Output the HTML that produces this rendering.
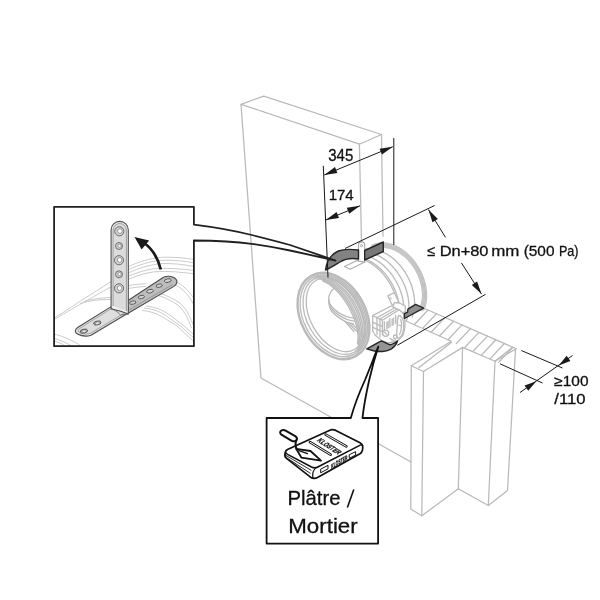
<!DOCTYPE html>
<html>
<head>
<meta charset="utf-8">
<title>Installation diagram</title>
<style>
html,body{margin:0;padding:0;background:#fff;}
body{width:600px;height:600px;overflow:hidden;font-family:"Liberation Sans",sans-serif;}
svg{display:block;filter:grayscale(1);}
text{font-family:"Liberation Sans",sans-serif;fill:#111;stroke:#111;stroke-width:0.3;}
.w{fill:none;stroke:#b8b9bc;stroke-width:1.25;stroke-linejoin:round;stroke-linecap:round;}
.d{fill:none;stroke:#bababa;stroke-width:1.3;stroke-linejoin:round;stroke-linecap:round;}
.df{fill:#fff;stroke:#bababa;stroke-width:1.3;stroke-linejoin:round;stroke-linecap:round;}
.k{fill:none;stroke:#1a1a1a;stroke-width:1;stroke-linecap:butt;}
.kb{fill:none;stroke:#1a1a1a;stroke-width:1.7;stroke-linejoin:miter;stroke-linecap:butt;}
.m{fill:#808184;stroke:#262626;stroke-width:1.4;stroke-linejoin:round;}
.ah{fill:#1a1a1a;stroke:none;}
</style>
</head>
<body>
<svg width="600" height="600" viewBox="0 0 600 600">
<rect width="600" height="600" fill="#fff"/>
<!-- wall slab -->
<g id="wall">
<path class="w" d="M241 104.3 L263.7 96.1 L381.5 134.5 L359.4 144.2 Z"/>
<path class="w" d="M241 104.3 L261 378 L411 462"/>
<path class="w" d="M359.4 144.2 L361.5 243"/>
<path class="w" d="M381.5 134.5 L383 236"/>
</g>
<!-- L-shaped wall section -->
<g id="lwall">
<path class="w" d="M424 308.3 L516.2 348.7"/>
<path class="w" d="M406 321 L451.3 341.3 L411.3 365.7"/>
<path class="w" d="M462.6 347.4 L495 361.3 L516.2 348.7"/>
<path class="w" d="M462.6 347.4 L423.5 371.5 L411.3 365.7"/>
<path class="w" d="M411.3 365.7 L410.8 509 L421.8 515.8 L458.3 488.8 L488.3 505.5 L507.5 490.5 L515.5 349.5"/>
<path class="w" d="M423.5 371.5 L421.8 515.8"/>
<path class="w" d="M462.6 347.4 L458.3 488.8"/>
<path class="w" d="M495 361.3 L488.3 505.5"/>
<path class="w" d="M414.2 324.7 L428.0 310.0"/>
<path class="w" d="M422.6 328.4 L436.5 313.8"/>
<path class="w" d="M431.1 332.2 L445.0 317.5"/>
<path class="w" d="M439.5 336.0 L453.5 321.2"/>
<path class="w" d="M448.0 339.7 L462.0 324.9"/>
<path class="w" d="M456.4 343.5 L470.5 328.6"/>
<path class="w" d="M464.9 347.3 L479.0 332.4"/>
<path class="w" d="M473.3 351.0 L487.5 336.1"/>
<path class="w" d="M481.8 354.8 L495.9 339.8"/>
<path class="w" d="M490.2 358.6 L504.4 343.5"/>
<path class="w" d="M498.7 362.3 L512.9 347.3"/>
<path class="w" d="M495 361.3 L512.5 347.2"/>
<path class="w" d="M418.7 367.8 L451.3 342.5"/>
</g>
<!-- duct / damper -->
<g id="duct">
<path class="d" style="stroke:#dadada;stroke-width:5.2" d="M372.93 247.32 L373.70 246.96 L374.48 246.64 L375.27 246.34 L376.08 246.08 L376.91 245.85 L377.74 245.65 L378.59 245.48 L379.45 245.34 L380.32 245.24 L381.20 245.17 L382.09 245.13 L382.98 245.12 L383.89 245.15 L384.80 245.21 L385.72 245.30 L386.64 245.42 L387.57 245.58 L388.50 245.77 L389.43 245.99 L390.37 246.24 L391.31 246.52 L392.25 246.83 L393.18 247.18 L394.12 247.56 L395.06 247.96 L395.99 248.40 L396.92 248.86 L397.85 249.36 L398.77 249.88 L399.68 250.44 L400.59 251.02 L401.50 251.63 L402.39 252.26 L403.28 252.92 L404.15 253.61 L405.02 254.33 L405.87 255.06 L406.72 255.83 L407.55 256.61 L408.37 257.42 L409.18 258.25 L409.97 259.10 L410.74 259.98 L411.50 260.87 L412.25 261.78 L412.98 262.71 L413.69 263.66 L414.38 264.63 L415.05 265.61 L415.71 266.61 L416.34 267.62 L416.96 268.64 L417.55 269.68 L418.12 270.73 L418.67 271.79 L419.20 272.87 L419.71 273.95 L420.19 275.04 L420.65 276.13 L421.09 277.24 L421.50 278.34 L421.88 279.46 L422.25 280.58 L422.58 281.70 L422.89 282.82 L423.18 283.94 L423.44 285.06 L423.67 286.19 L423.88 287.31 L424.06 288.42 L424.22 289.54 L424.34 290.65 L424.44 291.75 L424.52 292.85 L424.56 293.94 L424.58 295.02 L424.57 296.09 L424.54 297.16 L424.48 298.21 L424.39 299.25 L424.27 300.27 L424.13 301.29 L423.96 302.29 L423.76 303.27 L423.54 304.24 L423.29 305.19 L423.02 306.12 L422.71 307.04 L422.39 307.93 L422.04 308.81"/>
<path class="d" style="stroke-width:0.9" d="M371.78 245.10 L372.59 244.72 L373.43 244.37 L374.27 244.06 L375.14 243.78 L376.01 243.53 L376.90 243.32 L377.80 243.14 L378.72 242.99 L379.64 242.88 L380.58 242.80 L381.52 242.76 L382.48 242.75 L383.44 242.78 L384.41 242.84 L385.39 242.93 L386.37 243.06 L387.35 243.23 L388.35 243.42 L389.34 243.65 L390.33 243.92 L391.33 244.22 L392.33 244.55 L393.33 244.91 L394.32 245.31 L395.32 245.74 L396.31 246.20 L397.30 246.69 L398.28 247.22 L399.26 247.77 L400.24 248.36 L401.20 248.97 L402.16 249.62 L403.11 250.29 L404.05 250.99 L404.98 251.72 L405.90 252.48 L406.81 253.26 L407.71 254.06 L408.59 254.90 L409.46 255.75 L410.32 256.63 L411.16 257.54 L411.98 258.46 L412.79 259.41 L413.58 260.38 L414.35 261.36 L415.11 262.37 L415.84 263.39 L416.56 264.43 L417.25 265.49 L417.92 266.56 L418.58 267.65 L419.21 268.75 L419.81 269.87 L420.40 270.99 L420.96 272.13 L421.49 273.27 L422.00 274.43 L422.49 275.59 L422.95 276.76 L423.39 277.94 L423.80 279.12 L424.18 280.30 L424.54 281.49 L424.87 282.68 L425.17 283.88 L425.44 285.07 L425.69 286.26 L425.91 287.45 L426.10 288.63 L426.26 289.82 L426.39 290.99 L426.50 292.16 L426.57 293.33 L426.62 294.49 L426.64 295.63 L426.63 296.77 L426.59 297.90 L426.52 299.02 L426.42 300.12 L426.30 301.21 L426.14 302.29 L425.96 303.35 L425.75 304.39 L425.51 305.42 L425.24 306.43 L424.95 307.42 L424.63 308.39 L424.28 309.34 L423.90 310.27"/>
<path class="d" style="stroke-width:0.9" d="M372.38 246.25 L373.17 245.89 L373.97 245.55 L374.80 245.24 L375.63 244.97 L376.48 244.73 L377.34 244.53 L378.22 244.35 L379.10 244.21 L380.00 244.10 L380.91 244.03 L381.82 243.99 L382.75 243.98 L383.68 244.01 L384.62 244.07 L385.56 244.16 L386.52 244.29 L387.47 244.45 L388.43 244.64 L389.39 244.86 L390.36 245.12 L391.33 245.41 L392.29 245.73 L393.26 246.09 L394.23 246.47 L395.19 246.89 L396.15 247.34 L397.11 247.82 L398.07 248.33 L399.01 248.87 L399.96 249.43 L400.89 250.03 L401.82 250.66 L402.75 251.31 L403.66 251.99 L404.56 252.70 L405.45 253.43 L406.34 254.19 L407.20 254.97 L408.06 255.78 L408.91 256.61 L409.73 257.47 L410.55 258.35 L411.35 259.24 L412.13 260.16 L412.90 261.10 L413.65 262.06 L414.38 263.03 L415.09 264.03 L415.79 265.04 L416.46 266.06 L417.11 267.11 L417.74 268.16 L418.36 269.23 L418.94 270.31 L419.51 271.40 L420.06 272.50 L420.58 273.62 L421.07 274.74 L421.54 275.87 L421.99 277.00 L422.42 278.14 L422.81 279.29 L423.19 280.44 L423.53 281.59 L423.85 282.75 L424.14 283.90 L424.41 285.06 L424.65 286.22 L424.86 287.37 L425.05 288.52 L425.21 289.67 L425.34 290.81 L425.44 291.95 L425.51 293.07 L425.56 294.20 L425.58 295.31 L425.57 296.42 L425.53 297.51 L425.47 298.59 L425.37 299.66 L425.25 300.72 L425.10 301.76 L424.93 302.79 L424.72 303.80 L424.49 304.80 L424.23 305.78 L423.95 306.74 L423.64 307.68 L423.30 308.61 L422.94 309.51"/>
<path class="d" style="stroke-width:0.9" d="M372.98 247.41 L373.74 247.05 L374.52 246.73 L375.32 246.43 L376.13 246.17 L376.95 245.94 L377.78 245.74 L378.63 245.57 L379.49 245.43 L380.35 245.33 L381.23 245.26 L382.12 245.22 L383.01 245.21 L383.92 245.24 L384.83 245.30 L385.74 245.39 L386.66 245.51 L387.59 245.67 L388.52 245.85 L389.45 246.07 L390.38 246.32 L391.32 246.60 L392.26 246.92 L393.19 247.26 L394.13 247.64 L395.06 248.04 L395.99 248.48 L396.92 248.94 L397.85 249.44 L398.77 249.96 L399.68 250.51 L400.59 251.09 L401.49 251.70 L402.38 252.33 L403.26 252.99 L404.14 253.68 L405.00 254.39 L405.86 255.12 L406.70 255.88 L407.53 256.67 L408.35 257.47 L409.15 258.30 L409.94 259.15 L410.71 260.02 L411.47 260.92 L412.22 261.83 L412.94 262.75 L413.65 263.70 L414.34 264.66 L415.01 265.64 L415.67 266.64 L416.30 267.65 L416.91 268.67 L417.51 269.71 L418.08 270.75 L418.63 271.81 L419.15 272.88 L419.66 273.96 L420.14 275.05 L420.60 276.14 L421.03 277.24 L421.44 278.35 L421.83 279.46 L422.19 280.57 L422.53 281.69 L422.84 282.81 L423.12 283.93 L423.38 285.05 L423.61 286.17 L423.82 287.29 L424.00 288.41 L424.15 289.52 L424.28 290.62 L424.38 291.73 L424.45 292.82 L424.50 293.91 L424.52 294.99 L424.51 296.06 L424.47 297.12 L424.41 298.17 L424.32 299.20 L424.21 300.23 L424.06 301.24 L423.89 302.24 L423.70 303.22 L423.47 304.18 L423.23 305.13 L422.95 306.06 L422.65 306.97 L422.32 307.87 L421.97 308.74"/>
<path class="d" style="stroke-width:0.9" d="M373.58 248.56 L374.32 248.22 L375.07 247.90 L375.84 247.62 L376.62 247.36 L377.42 247.14 L378.22 246.95 L379.04 246.79 L379.87 246.65 L380.71 246.56 L381.56 246.49 L382.42 246.45 L383.28 246.44 L384.15 246.47 L385.03 246.53 L385.92 246.62 L386.81 246.74 L387.71 246.89 L388.60 247.07 L389.51 247.28 L390.41 247.52 L391.32 247.80 L392.22 248.10 L393.13 248.44 L394.03 248.80 L394.94 249.19 L395.84 249.61 L396.73 250.07 L397.63 250.54 L398.52 251.05 L399.40 251.59 L400.28 252.15 L401.15 252.74 L402.01 253.35 L402.87 253.99 L403.72 254.66 L404.55 255.34 L405.38 256.06 L406.19 256.79 L407.00 257.55 L407.79 258.34 L408.57 259.14 L409.33 259.96 L410.08 260.81 L410.82 261.67 L411.53 262.55 L412.24 263.45 L412.92 264.37 L413.59 265.30 L414.24 266.25 L414.88 267.21 L415.49 268.19 L416.08 269.18 L416.66 270.18 L417.21 271.20 L417.74 272.22 L418.25 273.26 L418.74 274.30 L419.21 275.36 L419.65 276.42 L420.07 277.48 L420.47 278.55 L420.84 279.63 L421.19 280.71 L421.52 281.79 L421.82 282.87 L422.10 283.96 L422.35 285.05 L422.58 286.13 L422.78 287.21 L422.95 288.29 L423.10 289.37 L423.22 290.44 L423.32 291.51 L423.39 292.57 L423.44 293.62 L423.46 294.66 L423.45 295.70 L423.42 296.73 L423.36 297.74 L423.27 298.75 L423.16 299.74 L423.02 300.72 L422.86 301.68 L422.67 302.63 L422.46 303.56 L422.22 304.48 L421.95 305.38 L421.66 306.27 L421.35 307.13 L421.01 307.98"/>
<path class="d" style="stroke-width:0.9" d="M374.18 249.71 L374.89 249.38 L375.62 249.08 L376.36 248.80 L377.12 248.56 L377.88 248.34 L378.66 248.16 L379.45 248.00 L380.25 247.88 L381.06 247.78 L381.88 247.72 L382.71 247.68 L383.55 247.68 L384.39 247.70 L385.24 247.76 L386.10 247.84 L386.96 247.96 L387.82 248.11 L388.69 248.28 L389.56 248.49 L390.43 248.73 L391.31 248.99 L392.18 249.29 L393.06 249.61 L393.93 249.96 L394.81 250.34 L395.68 250.75 L396.55 251.19 L397.41 251.65 L398.27 252.14 L399.12 252.66 L399.97 253.21 L400.81 253.78 L401.65 254.37 L402.48 254.99 L403.29 255.63 L404.10 256.30 L404.90 256.99 L405.69 257.71 L406.47 258.44 L407.23 259.20 L407.98 259.97 L408.72 260.77 L409.45 261.59 L410.16 262.42 L410.85 263.28 L411.53 264.15 L412.20 265.03 L412.84 265.94 L413.47 266.85 L414.08 267.79 L414.68 268.73 L415.25 269.69 L415.81 270.66 L416.34 271.64 L416.86 272.64 L417.35 273.64 L417.82 274.65 L418.28 275.67 L418.71 276.69 L419.11 277.72 L419.50 278.76 L419.86 279.80 L420.20 280.84 L420.51 281.89 L420.81 282.94 L421.07 283.99 L421.32 285.04 L421.54 286.09 L421.73 287.13 L421.90 288.18 L422.05 289.22 L422.17 290.25 L422.26 291.29 L422.33 292.31 L422.38 293.33 L422.40 294.34 L422.39 295.34 L422.36 296.33 L422.30 297.32 L422.22 298.29 L422.11 299.25 L421.98 300.19 L421.83 301.12 L421.64 302.04 L421.44 302.95 L421.21 303.83 L420.95 304.70 L420.67 305.56 L420.37 306.39 L420.04 307.21"/>
<path class="d"  d="M361.50 249.94 L362.34 249.69 L363.21 249.47 L364.08 249.27 L364.97 249.11 L365.86 248.99 L366.77 248.89 L367.69 248.82 L368.61 248.79 L369.55 248.79 L370.49 248.82 L371.43 248.89 L372.39 248.98 L373.35 249.11 L374.31 249.27 L375.27 249.46 L376.24 249.68 L377.22 249.94 L378.19 250.22 L379.16 250.54 L380.14 250.88 L381.11 251.26 L382.08 251.67 L383.05 252.11 L384.02 252.57 L384.98 253.07 L385.94 253.59 L386.89 254.15 L387.84 254.73 L388.78 255.34 L389.72 255.97 L390.64 256.63 L391.56 257.32 L392.47 258.03 L393.36 258.77 L394.25 259.54 L395.13 260.32 L395.99 261.13 L396.84 261.97 L397.68 262.82 L398.50 263.70 L399.31 264.60 L400.11 265.51 L400.88 266.45 L401.64 267.41 L402.39 268.38 L403.12 269.37 L403.82 270.38 L404.51 271.40 L405.18 272.44 L405.84 273.49 L406.47 274.55 L407.08 275.63 L407.67 276.72 L408.23 277.82 L408.78 278.93 L409.30 280.05 L409.80 281.18 L410.28 282.31 L410.73 283.45 L411.16 284.60 L411.57 285.75 L411.95 286.91 L412.31 288.07 L412.64 289.23 L412.94 290.39 L413.22 291.56 L413.48 292.72 L413.70 293.88 L413.91 295.04 L414.08 296.20 L414.23 297.35 L414.35 298.50 L414.45 299.64 L414.52 300.78 L414.56 301.91 L414.58 303.03 L414.57 304.14 L414.53 305.24 L414.46 306.33 L414.37 307.41 L414.26 308.47 L414.11 309.53 L413.94 310.57 L413.74 311.59 L413.52 312.60 L413.27 313.59 L412.99 314.57 L412.69 315.52 L412.37 316.46 L412.01 317.38"/>
<path class="d"  d="M355.54 252.93 L356.40 252.67 L357.26 252.45 L358.14 252.26 L359.03 252.10 L359.94 251.97 L360.85 251.87 L361.77 251.81 L362.70 251.77 L363.64 251.77 L364.58 251.80 L365.53 251.87 L366.49 251.96 L367.45 252.09 L368.42 252.25 L369.39 252.44 L370.37 252.67 L371.34 252.92 L372.32 253.21 L373.30 253.53 L374.28 253.88 L375.26 254.25 L376.24 254.66 L377.21 255.10 L378.18 255.57 L379.15 256.07 L380.11 256.60 L381.07 257.15 L382.02 257.74 L382.97 258.35 L383.91 258.99 L384.84 259.65 L385.76 260.35 L386.67 261.06 L387.58 261.81 L388.47 262.57 L389.35 263.37 L390.22 264.18 L391.07 265.02 L391.91 265.88 L392.74 266.76 L393.56 267.66 L394.35 268.58 L395.14 269.52 L395.90 270.48 L396.65 271.46 L397.38 272.46 L398.09 273.47 L398.79 274.50 L399.46 275.54 L400.11 276.60 L400.75 277.67 L401.36 278.75 L401.95 279.85 L402.52 280.95 L403.07 282.07 L403.60 283.19 L404.10 284.33 L404.58 285.47 L405.04 286.61 L405.47 287.77 L405.88 288.93 L406.26 290.09 L406.62 291.25 L406.95 292.42 L407.26 293.59 L407.54 294.76 L407.79 295.93 L408.02 297.10 L408.23 298.26 L408.40 299.43 L408.55 300.58 L408.68 301.74 L408.77 302.89 L408.84 304.03 L408.89 305.16 L408.90 306.29 L408.89 307.40 L408.85 308.51 L408.79 309.61 L408.70 310.69 L408.58 311.76 L408.43 312.82 L408.26 313.87 L408.06 314.90 L407.84 315.91 L407.59 316.91 L407.31 317.89 L407.01 318.85 L406.68 319.79 L406.32 320.72"/>
<path class="d"  d="M350.18 255.60 L351.04 255.34 L351.91 255.11 L352.79 254.92 L353.69 254.76 L354.59 254.63 L355.51 254.53 L356.43 254.47 L357.37 254.43 L358.31 254.43 L359.26 254.47 L360.22 254.53 L361.18 254.63 L362.15 254.76 L363.12 254.92 L364.10 255.11 L365.08 255.33 L366.06 255.59 L367.04 255.88 L368.03 256.20 L369.01 256.55 L369.99 256.93 L370.98 257.34 L371.96 257.78 L372.93 258.25 L373.91 258.75 L374.87 259.28 L375.84 259.84 L376.80 260.43 L377.75 261.05 L378.69 261.69 L379.63 262.36 L380.55 263.05 L381.47 263.77 L382.38 264.52 L383.27 265.29 L384.16 266.09 L385.03 266.90 L385.89 267.75 L386.74 268.61 L387.57 269.50 L388.39 270.40 L389.19 271.33 L389.97 272.28 L390.74 273.24 L391.49 274.23 L392.23 275.23 L392.95 276.24 L393.64 277.28 L394.32 278.33 L394.98 279.39 L395.62 280.46 L396.23 281.55 L396.83 282.65 L397.40 283.76 L397.95 284.89 L398.48 286.02 L398.99 287.16 L399.47 288.30 L399.93 289.46 L400.36 290.61 L400.77 291.78 L401.15 292.95 L401.51 294.12 L401.85 295.29 L402.16 296.47 L402.44 297.64 L402.70 298.82 L402.93 299.99 L403.13 301.16 L403.31 302.33 L403.46 303.50 L403.58 304.66 L403.68 305.81 L403.75 306.96 L403.79 308.10 L403.81 309.23 L403.80 310.35 L403.76 311.46 L403.70 312.57 L403.60 313.66 L403.48 314.73 L403.34 315.80 L403.17 316.85 L402.97 317.88 L402.74 318.90 L402.49 319.90 L402.21 320.89 L401.91 321.86 L401.58 322.81 L401.22 323.74"/>
<path class="d"  d="M345.69 257.78 L346.42 257.56 L347.16 257.37 L347.90 257.19 L348.66 257.04 L349.42 256.91 L350.19 256.80 L350.97 256.72 L351.76 256.66 L352.55 256.62 L353.35 256.61 L354.15 256.62 L354.96 256.65 L355.77 256.71 L356.59 256.79 L357.41 256.89 L358.23 257.02 L359.06 257.17 L359.89 257.34 L360.72 257.53 L361.56 257.75 L362.39 257.99 L363.23 258.25 L364.06 258.54 L364.90 258.84 L365.73 259.17 L366.57 259.52 L367.40 259.90 L368.23 260.29 L369.06 260.71 L369.88 261.14 L370.71 261.60 L371.52 262.08 L372.34 262.57 L373.15 263.09 L373.95 263.63 L374.75 264.19 L375.54 264.76 L376.33 265.36 L377.10 265.97 L377.88 266.60 L378.64 267.25 L379.40 267.92 L380.14 268.60 L380.88 269.30 L381.61 270.02 L382.33 270.75 L383.04 271.50 L383.74 272.27 L384.43 273.04 L385.10 273.84 L385.77 274.64 L386.42 275.46 L387.06 276.30 L387.69 277.14 L388.31 278.00 L388.91 278.87 L389.49 279.75 L390.07 280.64 L390.63 281.55 L391.17 282.46 L391.70 283.38 L392.22 284.31 L392.72 285.24 L393.20 286.19 L393.67 287.14 L394.12 288.10 L394.56 289.07 L394.98 290.04 L395.38 291.02 L395.76 292.00 L396.13 292.98 L396.48 293.97 L396.81 294.96 L397.13 295.96 L397.42 296.95 L397.70 297.95 L397.96 298.95 L398.20 299.95 L398.42 300.94 L398.62 301.94 L398.81 302.94 L398.97 303.93 L399.12 304.92 L399.24 305.91 L399.35 306.90 L399.44 307.88 L399.51 308.86 L399.56 309.83 L399.59 310.80 L399.60 311.76"/>
<path class="d"  d="M344.23 258.58 L344.95 258.36 L345.69 258.17 L346.44 257.99 L347.19 257.84 L347.96 257.71 L348.73 257.60 L349.51 257.52 L350.29 257.46 L351.08 257.42 L351.88 257.41 L352.68 257.42 L353.49 257.45 L354.31 257.51 L355.12 257.59 L355.94 257.69 L356.77 257.82 L357.60 257.97 L358.43 258.14 L359.26 258.33 L360.09 258.55 L360.93 258.79 L361.76 259.05 L362.60 259.34 L363.43 259.64 L364.27 259.97 L365.10 260.32 L365.94 260.70 L366.77 261.09 L367.59 261.51 L368.42 261.94 L369.24 262.40 L370.06 262.88 L370.87 263.37 L371.68 263.89 L372.48 264.43 L373.28 264.99 L374.07 265.56 L374.86 266.16 L375.64 266.77 L376.41 267.40 L377.18 268.05 L377.93 268.72 L378.68 269.40 L379.42 270.10 L380.15 270.82 L380.87 271.55 L381.57 272.30 L382.27 273.07 L382.96 273.84 L383.64 274.64 L384.30 275.44 L384.96 276.26 L385.60 277.10 L386.22 277.94 L386.84 278.80 L387.44 279.67 L388.03 280.55 L388.60 281.44 L389.16 282.35 L389.71 283.26 L390.24 284.18 L390.75 285.11 L391.25 286.04 L391.74 286.99 L392.21 287.94 L392.66 288.90 L393.09 289.87 L393.51 290.84 L393.91 291.82 L394.30 292.80 L394.67 293.78 L395.02 294.77 L395.35 295.76 L395.66 296.76 L395.96 297.75 L396.23 298.75 L396.49 299.75 L396.73 300.75 L396.96 301.74 L397.16 302.74 L397.34 303.74 L397.51 304.73 L397.65 305.72 L397.78 306.71 L397.89 307.70 L397.98 308.68 L398.04 309.66 L398.09 310.63 L398.12 311.60 L398.13 312.56"/>
<ellipse class="df" style="stroke:none" cx="333.5" cy="316.0" rx="46.6" ry="33.0" transform="rotate(61 333.5 316.0)"/>
<path fill="#e4e4e4" stroke="none" d="M313.24 274.77 L314.76 274.17 L316.33 273.68 L317.94 273.30 L319.59 273.02 L321.27 272.85 L322.99 272.79 L324.73 272.84 L326.49 272.99 L328.27 273.26 L330.07 273.63 L331.87 274.10 L333.68 274.68 L335.49 275.37 L337.29 276.15 L339.08 277.04 L340.86 278.02 L342.62 279.10 L344.35 280.27 L346.06 281.53 L347.74 282.87 L349.39 284.30 L350.99 285.81 L352.55 287.40 L354.06 289.05 L355.52 290.77 L356.92 292.56 L358.27 294.40 L359.56 296.30 L360.77 298.25 L361.93 300.24 L363.00 302.28 L364.01 304.34 L364.94 306.44 L365.79 308.56 L366.56 310.69 L367.25 312.85 L367.85 315.00 L368.37 317.17 L368.80 319.32 L369.14 321.48 L369.39 323.61 L369.55 325.73 L369.63 327.82 L369.61 329.89 L369.50 331.92 L369.30 333.90 L369.01 335.85 L368.63 337.74 L368.17 339.58 L367.62 341.36 L366.98 343.08 L366.26 344.73 L365.45 346.31 L364.57 347.81 L363.61 349.23 L362.57 350.57 L361.46 351.83 L360.29 352.99 L359.04 354.06 L357.73 355.04 L354.32 350.31 L355.21 349.60 L356.05 348.80 L356.83 347.92 L357.55 346.96 L358.22 345.93 L358.82 344.82 L359.36 343.64 L359.83 342.38 L360.24 341.07 L360.58 339.68 L360.85 338.24 L361.05 336.75 L361.19 335.20 L361.25 333.61 L361.25 331.97 L361.17 330.29 L361.03 328.57 L360.82 326.82 L360.54 325.05 L360.19 323.25 L359.78 321.44 L359.30 319.61 L358.75 317.77 L358.15 315.93 L357.48 314.09 L356.75 312.25 L355.96 310.42 L355.11 308.61 L354.22 306.82 L353.27 305.04 L352.27 303.30 L351.22 301.59 L350.13 299.91 L349.00 298.27 L347.83 296.68 L346.62 295.14 L345.38 293.64 L344.11 292.21 L342.81 290.83 L341.49 289.52 L340.15 288.27 L338.80 287.10 L337.43 285.99 L336.05 284.96 L334.66 284.01 L333.28 283.14 L331.89 282.35 L330.50 281.64 L329.13 281.02 L327.76 280.49 L326.41 280.04 L325.08 279.69 L323.77 279.43 L322.48 279.26 L321.22 279.18 L319.99 279.19 L318.79 279.30 L317.63 279.49 L316.51 279.78 L315.44 280.16 Z"/>
<path fill="#e9e9e9" stroke="none" d="M322.68 278.32 L323.74 278.47 L324.81 278.67 L325.90 278.93 L327.00 279.25 L328.11 279.63 L329.22 280.07 L330.35 280.56 L331.48 281.11 L332.61 281.71 L333.74 282.36 L334.88 283.07 L336.01 283.83 L337.13 284.64 L338.26 285.50 L339.37 286.40 L340.48 287.36 L341.57 288.35 L342.65 289.40 L343.72 290.48 L344.77 291.60 L345.80 292.76 L346.82 293.96 L347.81 295.19 L348.78 296.45 L349.73 297.75 L350.65 299.07 L351.54 300.42 L352.41 301.79 L353.25 303.19 L354.05 304.61 L354.83 306.04 L355.57 307.49 L356.27 308.95 L356.94 310.43 L357.58 311.91 L358.17 313.40 L358.73 314.89 L359.25 316.39 L359.73 317.88 L360.16 319.37 L360.56 320.86 L360.91 322.34 L361.22 323.81 L361.49 325.26 L361.71 326.70 L361.89 328.13 L362.02 329.54 L362.11 330.92 L362.15 332.28 L362.15 333.62 L362.11 334.93 L362.02 336.21 L361.88 337.45 L361.71 338.67 L361.48 339.85 L361.22 340.99 L360.91 342.09 L360.55 343.15 L360.16 344.17 L359.72 345.14 L356.98 344.75 L357.24 343.91 L357.47 343.02 L357.65 342.09 L357.81 341.11 L357.92 340.10 L357.99 339.05 L358.03 337.97 L358.03 336.85 L357.99 335.69 L357.91 334.51 L357.79 333.30 L357.63 332.06 L357.44 330.79 L357.21 329.50 L356.94 328.20 L356.64 326.87 L356.30 325.52 L355.92 324.16 L355.51 322.79 L355.07 321.41 L354.59 320.01 L354.07 318.62 L353.53 317.21 L352.95 315.81 L352.35 314.41 L351.71 313.00 L351.05 311.61 L350.35 310.22 L349.64 308.84 L348.89 307.47 L348.13 306.11 L347.34 304.77 L346.52 303.45 L345.69 302.14 L344.84 300.86 L343.97 299.60 L343.08 298.37 L342.18 297.17 L341.27 295.99 L340.34 294.85 L339.41 293.74 L338.46 292.66 L337.51 291.62 L336.55 290.62 L335.58 289.66 L334.61 288.74 L333.64 287.86 L332.67 287.02 L331.70 286.24 L330.74 285.49 L329.77 284.80 L328.82 284.15 L327.87 283.56 L326.93 283.01 L326.00 282.52 L325.08 282.08 L324.18 281.69 L323.29 281.36 L322.41 281.08 L321.56 280.85 Z"/>
<ellipse class="d" style="stroke-width:2.4" cx="333.5" cy="316.0" rx="45.9" ry="32.3" transform="rotate(61 333.5 316.0)"/>
<ellipse class="d"  cx="333.8" cy="315.8" rx="43.6" ry="30.0" transform="rotate(61 333.8 315.8)"/>
<ellipse class="d"  cx="334.5" cy="315.4" rx="41.8" ry="27.6" transform="rotate(61 334.5 315.4)"/>
<ellipse class="d"  cx="335.4" cy="314.9" rx="39.6" ry="25.2" transform="rotate(61 335.4 314.9)"/>
<path class="d"  d="M316.00 276.79 L316.83 276.57 L317.68 276.39 L318.55 276.25 L319.43 276.15 L320.33 276.09 L321.24 276.08 L322.16 276.10 L323.09 276.16 L324.04 276.26 L324.99 276.41 L325.95 276.59 L326.92 276.81 L327.90 277.08 L328.88 277.38 L329.87 277.72 L330.86 278.10 L331.85 278.52 L332.85 278.97 L333.84 279.46 L334.84 280.00 L335.83 280.56 L336.82 281.16 L337.81 281.80 L338.80 282.47 L339.77 283.18 L340.75 283.92 L341.71 284.69 L342.67 285.50 L343.61 286.33 L344.55 287.19 L345.48 288.09 L346.39 289.01 L347.29 289.96 L348.18 290.93 L349.05 291.94 L349.91 292.96 L350.74 294.01 L351.57 295.08 L352.37 296.17 L353.15 297.28 L353.92 298.41 L354.66 299.56 L355.39 300.73 L356.09 301.91 L356.76 303.10 L357.42 304.31 L358.05 305.53 L358.65 306.76 L359.23 308.00 L359.79 309.25 L360.31 310.50 L360.81 311.76 L361.29 313.03 L361.73 314.30 L362.15 315.57 L362.53 316.84 L362.89 318.10 L363.22 319.37 L363.52 320.63 L363.78 321.89 L364.02 323.15 L364.23 324.39 L364.40 325.63 L364.54 326.85 L364.66 328.07 L364.74 329.28 L364.79 330.47 L364.80 331.64 L364.79 332.80 L364.74 333.94 L364.67 335.07 L364.56 336.18 L364.42 337.26 L364.24 338.32 L364.04 339.37 L363.81 340.38 L363.54 341.38 L363.25 342.34 L362.92 343.28 L362.57 344.20 L362.18 345.08 L361.77 345.94 L361.33 346.76 L360.86 347.56 L360.36 348.32 L359.84 349.05 L359.29 349.74 L358.71 350.40 L358.11 351.03 L357.48 351.62"/>
<path class="d"  d="M318.28 278.03 L319.04 277.92 L319.82 277.85 L320.62 277.81 L321.42 277.81 L322.24 277.85 L323.06 277.92 L323.90 278.02 L324.74 278.16 L325.60 278.33 L326.46 278.54 L327.32 278.78 L328.20 279.06 L329.07 279.37 L329.95 279.71 L330.84 280.09 L331.72 280.49 L332.61 280.94 L333.50 281.41 L334.39 281.92 L335.28 282.45 L336.17 283.02 L337.05 283.62 L337.93 284.24 L338.81 284.90 L339.68 285.59 L340.55 286.30 L341.41 287.04 L342.26 287.80 L343.10 288.60 L343.94 289.41 L344.77 290.25 L345.58 291.12 L346.39 292.01 L347.18 292.92 L347.96 293.85 L348.73 294.80 L349.48 295.77 L350.22 296.76 L350.94 297.77 L351.65 298.79 L352.34 299.83 L353.02 300.88 L353.67 301.95 L354.31 303.03 L354.93 304.12 L355.53 305.23 L356.11 306.34 L356.66 307.46 L357.20 308.59 L357.72 309.73 L358.21 310.87 L358.68 312.02 L359.13 313.17 L359.55 314.32 L359.95 315.48 L360.33 316.63 L360.68 317.79 L361.00 318.94 L361.30 320.09 L361.58 321.24 L361.83 322.38 L362.05 323.51 L362.25 324.64 L362.42 325.76 L362.57 326.88 L362.69 327.98 L362.78 329.07 L362.84 330.15 L362.88 331.22 L362.89 332.27 L362.88 333.31 L362.84 334.33 L362.77 335.33 L362.67 336.32 L362.55 337.29 L362.40 338.24 L362.22 339.17 L362.02 340.08 L361.79 340.96 L361.54 341.82 L361.26 342.66 L360.95 343.48 L360.62 344.27 L360.27 345.03 L359.89 345.77 L359.48 346.48 L359.06 347.16 L358.61 347.81 L358.13 348.44 L357.64 349.03"/>
<path class="d"  d="M320.22 279.07 L320.93 279.06 L321.65 279.08 L322.38 279.13 L323.12 279.21 L323.86 279.32 L324.62 279.46 L325.38 279.63 L326.15 279.83 L326.93 280.06 L327.71 280.32 L328.50 280.61 L329.29 280.93 L330.08 281.28 L330.88 281.66 L331.68 282.06 L332.48 282.49 L333.28 282.95 L334.08 283.44 L334.88 283.96 L335.68 284.50 L336.48 285.06 L337.27 285.65 L338.06 286.27 L338.85 286.91 L339.64 287.58 L340.41 288.27 L341.19 288.98 L341.96 289.71 L342.72 290.47 L343.47 291.24 L344.21 292.04 L344.95 292.86 L345.67 293.69 L346.39 294.55 L347.09 295.42 L347.79 296.31 L348.47 297.21 L349.14 298.13 L349.80 299.07 L350.44 300.02 L351.07 300.98 L351.69 301.96 L352.29 302.94 L352.87 303.94 L353.44 304.95 L353.99 305.96 L354.53 306.99 L355.05 308.02 L355.55 309.06 L356.03 310.10 L356.49 311.15 L356.94 312.20 L357.36 313.26 L357.77 314.32 L358.16 315.38 L358.52 316.44 L358.87 317.50 L359.19 318.56 L359.49 319.61 L359.78 320.66 L360.04 321.71 L360.27 322.76 L360.49 323.80 L360.68 324.83 L360.85 325.86 L361.00 326.88 L361.13 327.88 L361.23 328.88 L361.31 329.87 L361.37 330.85 L361.41 331.81 L361.42 332.76 L361.41 333.70 L361.37 334.62 L361.31 335.53 L361.23 336.42 L361.13 337.30 L361.01 338.16 L360.86 339.00 L360.69 339.82 L360.49 340.62 L360.28 341.40 L360.04 342.16 L359.78 342.89 L359.50 343.61 L359.20 344.30 L358.87 344.97 L358.53 345.62 L358.16 346.24 L357.78 346.83"/>
<path class="d"  d="M322.38 279.87 L323.02 279.98 L323.67 280.11 L324.32 280.27 L324.98 280.46 L325.65 280.67 L326.32 280.90 L327.00 281.16 L327.68 281.45 L328.36 281.75 L329.05 282.09 L329.74 282.44 L330.44 282.82 L331.13 283.22 L331.83 283.65 L332.53 284.09 L333.23 284.56 L333.93 285.05 L334.63 285.56 L335.33 286.10 L336.03 286.65 L336.73 287.23 L337.42 287.82 L338.11 288.44 L338.80 289.07 L339.48 289.72 L340.16 290.39 L340.84 291.08 L341.51 291.79 L342.17 292.51 L342.83 293.25 L343.48 294.00 L344.13 294.77 L344.77 295.56 L345.40 296.35 L346.02 297.17 L346.63 297.99 L347.24 298.83 L347.83 299.68 L348.42 300.54 L348.99 301.41 L349.55 302.30 L350.11 303.19 L350.65 304.09 L351.18 305.00 L351.69 305.92 L352.20 306.84 L352.69 307.77 L353.16 308.71 L353.63 309.65 L354.08 310.59 L354.51 311.54 L354.93 312.49 L355.34 313.45 L355.73 314.40 L356.11 315.36 L356.47 316.32 L356.81 317.28 L357.14 318.23 L357.45 319.19 L357.74 320.14 L358.02 321.09 L358.28 322.04 L358.52 322.98 L358.75 323.92 L358.96 324.85 L359.15 325.78 L359.32 326.70 L359.47 327.61 L359.61 328.51 L359.73 329.41 L359.83 330.29 L359.91 331.17 L359.97 332.03 L360.02 332.89 L360.05 333.73 L360.05 334.56 L360.04 335.38 L360.02 336.18 L359.97 336.97 L359.90 337.75 L359.82 338.50 L359.72 339.25 L359.60 339.98 L359.46 340.69 L359.30 341.38 L359.13 342.06 L358.93 342.72 L358.72 343.36 L358.50 343.98 L358.25 344.58"/>
<path class="d"  d="M322.79 280.57 L323.39 280.73 L323.99 280.91 L324.60 281.11 L325.21 281.33 L325.83 281.58 L326.46 281.84 L327.09 282.14 L327.72 282.45 L328.36 282.78 L329.00 283.14 L329.65 283.52 L330.29 283.92 L330.94 284.34 L331.59 284.78 L332.24 285.24 L332.90 285.73 L333.55 286.23 L334.20 286.75 L334.85 287.29 L335.51 287.85 L336.16 288.43 L336.80 289.03 L337.45 289.64 L338.09 290.27 L338.73 290.92 L339.37 291.58 L340.01 292.26 L340.63 292.96 L341.26 293.67 L341.88 294.39 L342.49 295.13 L343.10 295.89 L343.70 296.65 L344.30 297.43 L344.88 298.23 L345.47 299.03 L346.04 299.84 L346.60 300.67 L347.16 301.50 L347.70 302.35 L348.24 303.20 L348.77 304.06 L349.29 304.93 L349.80 305.81 L350.29 306.69 L350.78 307.58 L351.25 308.48 L351.72 309.38 L352.17 310.28 L352.61 311.19 L353.03 312.10 L353.45 313.01 L353.85 313.93 L354.23 314.85 L354.61 315.76 L354.97 316.68 L355.31 317.60 L355.64 318.52 L355.96 319.43 L356.26 320.34 L356.55 321.25 L356.82 322.16 L357.08 323.06 L357.32 323.96 L357.54 324.85 L357.75 325.74 L357.95 326.62 L358.13 327.49 L358.29 328.36 L358.43 329.22 L358.56 330.07 L358.68 330.90 L358.77 331.73 L358.85 332.55 L358.92 333.36 L358.96 334.16 L358.99 334.95 L359.01 335.72 L359.00 336.48 L358.98 337.23 L358.94 337.96 L358.89 338.68 L358.82 339.38 L358.73 340.07 L358.63 340.74 L358.51 341.40 L358.37 342.04 L358.22 342.66 L358.05 343.27 L357.87 343.85"/>
<path class="d"  d="M323.08 281.29 L323.63 281.48 L324.19 281.70 L324.76 281.94 L325.33 282.20 L325.91 282.47 L326.49 282.77 L327.08 283.10 L327.67 283.44 L328.26 283.80 L328.86 284.18 L329.45 284.58 L330.06 285.00 L330.66 285.44 L331.27 285.89 L331.87 286.37 L332.48 286.87 L333.09 287.38 L333.70 287.91 L334.31 288.46 L334.92 289.02 L335.52 289.60 L336.13 290.20 L336.73 290.81 L337.34 291.44 L337.94 292.08 L338.53 292.74 L339.13 293.42 L339.72 294.10 L340.31 294.80 L340.89 295.52 L341.47 296.24 L342.04 296.98 L342.61 297.73 L343.17 298.49 L343.73 299.26 L344.28 300.04 L344.82 300.84 L345.36 301.64 L345.89 302.45 L346.41 303.27 L346.92 304.09 L347.43 304.93 L347.93 305.77 L348.41 306.61 L348.89 307.47 L349.36 308.33 L349.82 309.19 L350.27 310.05 L350.71 310.93 L351.14 311.80 L351.56 312.68 L351.96 313.55 L352.36 314.43 L352.74 315.31 L353.11 316.20 L353.47 317.08 L353.82 317.96 L354.16 318.84 L354.48 319.71 L354.79 320.59 L355.08 321.46 L355.37 322.33 L355.64 323.19 L355.89 324.06 L356.13 324.91 L356.36 325.76 L356.57 326.61 L356.77 327.44 L356.96 328.27 L357.13 329.10 L357.29 329.91 L357.43 330.72 L357.56 331.52 L357.67 332.30 L357.76 333.08 L357.85 333.85 L357.91 334.60 L357.97 335.35 L358.00 336.08 L358.03 336.80 L358.03 337.51 L358.02 338.20 L358.00 338.88 L357.96 339.55 L357.91 340.20 L357.84 340.84 L357.76 341.46 L357.66 342.07 L357.54 342.66 L357.42 343.23"/>
<path class="d" d="M334.2 288.3 C331 290.5 328.9 294.5 328.7 299.2 C328.8 303 330.5 305.5 332 307 C336 311.5 341 314.5 346.7 316.7 C350 317.6 352.5 318 355 318.3"/>
<path class="d" d="M328.7 299.2 C328.9 304.5 330.2 307.2 331.8 309 C336 313.8 341 316.8 346.2 319.2 C349 320.2 351.5 320.8 354 321.2"/>
<path class="d" d="M328.8 300.5 C329 306 330 309 331.5 311 C335.5 315.8 340.5 319 345.6 321.6 C348.5 322.8 351 323.6 353.5 324"/>
<path class="d" d="M345 321.5 L354 331.5 M348 322.5 L356.5 331 M351.5 323.5 L358 329.5"/>
<path class="df" d="M387.8 295.8 L394.3 292.6 L398.6 301.8 L392.1 305 Z"/>
<path class="d" style="stroke-width:0.8" d="M390 297.2 L390.6 299.2 L391.6 298.8"/>
<path class="df" d="M393 306.5 L394.5 302.6 L399.5 303 L405.2 306 L405.4 311.5 L402 313 Z"/>
<path class="df" d="M372.7 315.6 L391 306 L399.3 309.8 L403.8 314 C405.6 320 405.4 329 403.2 335 L397.5 341 L388 343 L381.8 340.4 L375.5 335.5 L372.7 331 Z"/>
<path class="d" d="M372.7 315.6 L382.3 320.2 L399.3 309.8 M382.3 320.2 L382.5 334.5"/>
<path class="d" d="M376.8 317.7 L393.5 308.5 M379.8 319 L396.5 309.3"/>
<path class="d" d="M376.9 318 L377 334.5 M379.9 319.3 L380 337"/>
<path class="d" d="M372.9 322.3 L382.4 326.6 M372.9 327.4 L382.4 331.6"/>
<path d="M386.3 322.2 L388.9 320.8 L388.9 327.8 L386.3 329.2 Z M391.7 319 L394 317.7 L394 324.6 L391.7 325.9 Z" fill="#c4c4c4" stroke="#c0c0c0" stroke-width="0.5"/>
<path class="d" d="M384.3 321.6 L384.4 330.5 M389.8 318.6 L390 327 M395.6 315.3 L395.8 323.5"/>
<circle class="d" cx="385.7" cy="333.2" r="3.1"/>
<path class="d" d="M384.6 332 L386.8 334.4"/>
<circle class="d" cx="395.2" cy="336.8" r="1.8"/>
<path class="d" d="M398.6 315.5 C402.6 316 404.6 322 403.6 329 C402.8 334.5 400.4 338.5 397.8 338 C395.8 336.5 396.8 331 397.2 327 C397.5 322 397.3 318 398.6 315.5 Z"/>
<path class="d" d="M400.6 319.5 C402.2 323 401.8 330 399.6 334.5 M398.8 325 L400.8 326"/>
<path class="d" d="M390.2 338.5 C391.5 340 393.5 340.5 395.5 339.8"/>
</g>
<!-- mortar patches + bracket -->
<g id="mortar">
<path class="df" style="stroke-width:1.1;stroke:#adadad" d="M344.5 266.5 L357 260.6 L364.7 262 L350.2 269.3 Z"/>
<path class="df" style="stroke-width:1.1;stroke:#a6a6a6" d="M358.5 261 L358.5 245 A3.1 3.1 0 0 1 364.7 245 L364.7 262 Z"/>
<circle class="d" style="stroke-width:0.8;stroke:#999" cx="361.4" cy="245.6" r="1.1"/>
<path class="m" style="fill:#808285" d="M325.5 270 C326.5 262 331 254.5 338.3 251 C344 248.9 352 249.2 358.5 250 L358.5 259 C352 258 346 258 340 262 C335 265 330 268.2 325.5 270 Z"/>
<path class="m" style="fill:#77787b" d="M364.7 250.5 L383.3 242 L383.3 251.5 L364.7 260 Z"/>
<path class="m" style="fill:#8e8f92" d="M404.4 318.5 L404.4 313.6 L407.6 312.1 L407.9 309.2 L415.6 304.4 L423.6 308.1 Z"/>
<path class="m" style="fill:#949598" d="M366.8 348.9 L378.5 342.4 L381 341 C384.5 341.4 387 344.4 390 344.7 C393 344.6 395.5 342.6 397.5 341 C396.5 344 394.5 346.8 391.5 348.9 C389 350.4 386 351.2 382.5 351.5 C379 351.6 376 351.3 373.5 350.7 Z"/>
</g>
<!-- dimensions -->
<g id="dims">
<path class="k" d="M323.3 165.8 L328 277.5"/>
<path class="k" d="M393.8 138 L393.8 245"/>
<path class="k" d="M324.2 175 L392.8 146.7"/>
<path class="ah" d="M324.2 175.0 L335.0 167.1 L337.4 173.0 Z"/>
<path class="ah" d="M392.8 146.7 L382.0 154.6 L379.6 148.7 Z"/>
<path class="k" d="M325.8 220 L360 205.8"/>
<path class="ah" d="M325.8 220.0 L336.6 212.1 L339.0 218.0 Z"/>
<path class="ah" d="M360.0 205.8 L349.2 213.7 L346.8 207.8 Z"/>
<path class="k" d="M345 248.5 L434.6 205.5"/>
<path class="k" d="M397.3 345.3 L485.6 294.3"/>
<path class="k" d="M428.4 209.5 L445.5 237.4"/>
<path class="k" d="M461.4 262.9 L481.5 294.1"/>
<path class="ah" d="M428.4 209.5 L437.9 218.9 L432.5 222.3 Z"/>
<path class="ah" d="M481.5 294.1 L471.8 284.9 L477.1 281.4 Z"/>
<path class="k" d="M521.3 350.5 L562.5 368"/>
<path class="k" d="M500 363.8 L542.5 383"/>
<path class="k" d="M520 392.5 L572.5 355.5"/>
<path class="ah" d="M536.3 381.3 L528.2 390.7 L524.6 385.5 Z"/>
<path class="ah" d="M558.8 365.5 L566.6 355.8 L570.4 361.0 Z"/>
<text x="328.28" y="160.8" font-size="16" textLength="25.04" lengthAdjust="spacingAndGlyphs">345</text>
<text x="328.69" y="200.3" font-size="15.5" textLength="25.01" lengthAdjust="spacingAndGlyphs">174</text>
<text x="426.97" y="255.8" font-size="15" textLength="8.00" lengthAdjust="spacingAndGlyphs">≤</text>
<text x="439.68" y="255.8" font-size="15" textLength="48.82" lengthAdjust="spacingAndGlyphs">Dn+80</text>
<text x="491.26" y="255.8" font-size="15" textLength="28.25" lengthAdjust="spacingAndGlyphs">mm</text>
<text x="523.68" y="255.8" font-size="15" textLength="30.84" lengthAdjust="spacingAndGlyphs">(500</text>
<text x="558.88" y="255.8" font-size="15" textLength="19.60" lengthAdjust="spacingAndGlyphs">Pa)</text>
<text x="554.28" y="386.3" font-size="14" textLength="34.21" lengthAdjust="spacingAndGlyphs">≥100</text>
<text x="554.28" y="403.8" font-size="14" textLength="31.21" lengthAdjust="spacingAndGlyphs">/110</text>
</g>
<!-- inset box with bracket -->
<g id="inset">
<clipPath id="cin"><rect x="54.1" y="206.9" width="139.8" height="139.3"/></clipPath>
<g clip-path="url(#cin)"><path d="M54 318 C66 311 76 304 83.4 299 C92 294 101 288 111 281.5" fill="none" stroke="#cbcbcb" stroke-width="1"/>
<path d="M54 319.5 C67 312 78 305.5 86 301 C95 296 103 291 111 287" fill="none" stroke="#cbcbcb" stroke-width="1"/>
<path d="M84 301.5 C92 299 101 297.8 111 297.5" fill="none" stroke="#cbcbcb" stroke-width="1"/>
<path d="M80 303.5 C90 300.5 100 299.3 111 299.5" fill="none" stroke="#cbcbcb" stroke-width="1"/>
<path d="M54 338.5 C60 340 66 342.5 71.5 346" fill="none" stroke="#cbcbcb" stroke-width="1"/>
<path d="M54 341 C58 342 62 343.8 65 346" fill="none" stroke="#cbcbcb" stroke-width="1"/>
<path d="M54 334 C64 336.5 74 341 81 346" fill="none" stroke="#cbcbcb" stroke-width="1"/>
<path d="M128 266.8 C138 262 150 258.3 161.3 257.3 C172 256.8 184 257.8 195 259.6" fill="none" stroke="#cbcbcb" stroke-width="1"/>
<path d="M128 269.8 C139 264.8 150 261.3 161.3 260.3 C172 259.8 184 261 195 263" fill="none" stroke="#cbcbcb" stroke-width="1"/>
<path d="M128 273 C139 268 151 264.4 162 263.6 C173 263.2 184 264.5 195 266.6" fill="none" stroke="#cbcbcb" stroke-width="1"/>
<path d="M128 276.5 C137 272.5 145 270 153 268.8 C167 267.8 181 268.8 195 270.5" fill="none" stroke="#cbcbcb" stroke-width="1"/>
<path d="M128 279.5 C137 275.5 146 273 154 271.8 C168 270.8 181 272 195 274" fill="none" stroke="#cbcbcb" stroke-width="1"/>
<path d="M128 285.6 C134 284.6 140 284 146.4 283.6" fill="none" stroke="#cbcbcb" stroke-width="1"/>
<path d="M128 288.5 C134 287.4 140 286.8 146 286.4" fill="none" stroke="#cbcbcb" stroke-width="1"/>
<path d="M176 282 C182 284.5 188 289.5 195 300" fill="none" stroke="#cbcbcb" stroke-width="1"/>
<path d="M173 284 C180 286.5 186.5 292 193.5 304" fill="none" stroke="#cbcbcb" stroke-width="1"/>
<path d="M146 306 C155 307 163 310 168.8 314.4 C175 319 180 322.5 184 326 L194 334.7" fill="none" stroke="#cbcbcb" stroke-width="1"/>
<path d="M144 308 C153 309 160 311.5 165.8 315.6 C172 320 177 323.5 181 326.5 L194 338.2" fill="none" stroke="#cbcbcb" stroke-width="1"/>
<path d="M142 310.5 C150 311 157 313.5 162.5 317 C168 320.5 173 323.2 177 326 L194 341.7" fill="none" stroke="#cbcbcb" stroke-width="1"/>
<path d="M161.3 293.8 C168 296 174 299 180 303.2 C185 307.5 189 314 193 324.5" fill="none" stroke="#cbcbcb" stroke-width="1"/>
<path d="M158.5 295.5 C166 298 172 301 178 305.2 C183.5 310 187.5 316.5 191.5 328" fill="none" stroke="#cbcbcb" stroke-width="1"/>
<path d="M127.3 301 L163.5 277.3 C168 275.2 174.5 276.5 176.6 280 C177.6 283 176 285 173.5 286.6 L127.3 313.8 Z" fill="#bebebe" stroke="#4c4c4c" stroke-width="1.1" stroke-linejoin="round"/>
<path d="M127.3 311 L172.5 284.5" fill="none" stroke="#8a8a8a" stroke-width="0.8"/>
<ellipse cx="132.8" cy="302.6" rx="3.2" ry="1.612" transform="rotate(-12 132.8 302.6)" fill="#d4d4d4" stroke="#555" stroke-width="0.9"/>
<ellipse cx="141.3" cy="297" rx="3.2" ry="1.612" transform="rotate(-12 141.3 297)" fill="#d4d4d4" stroke="#555" stroke-width="0.9"/>
<ellipse cx="150" cy="291.2" rx="3.4" ry="1.736" transform="rotate(-12 150 291.2)" fill="#d4d4d4" stroke="#555" stroke-width="0.9"/>
<ellipse cx="159.2" cy="285.7" rx="3.2" ry="1.612" transform="rotate(-12 159.2 285.7)" fill="#d4d4d4" stroke="#555" stroke-width="0.9"/>
<ellipse cx="167.8" cy="280.6" rx="3.5" ry="1.798" transform="rotate(-12 167.8 280.6)" fill="#d4d4d4" stroke="#555" stroke-width="0.9"/>
<path d="M111.2 306.6 L78 327.3 C74.5 329.5 74.5 332.5 77.5 334 C82 336.3 87.5 336.5 91 335.2 L127 313.8 L128.3 307.5 Z" fill="#dedede" stroke="#4c4c4c" stroke-width="1.1" stroke-linejoin="round"/>
<path d="M113 307.5 L80 328.3 C77.5 330 77.8 331.8 80 332.8 C83.5 334.3 87.5 334.3 90.5 333.2 L124.5 313" fill="none" stroke="#8c8c8c" stroke-width="0.7"/>
<ellipse cx="83.9" cy="331.1" rx="3.8" ry="1.8599999999999999" transform="rotate(-12 83.9 331.1)" fill="#b4b4b4" stroke="#4c4c4c" stroke-width="0.9"/>
<ellipse cx="84.2" cy="331.3" rx="2.1" ry="1.2000000000000002" transform="rotate(-12 83.9 331.1)" fill="#f4f4f4" stroke="#777" stroke-width="0.6"/>
<ellipse cx="97.3" cy="323" rx="3.8" ry="1.8599999999999999" transform="rotate(-12 97.3 323)" fill="#b4b4b4" stroke="#4c4c4c" stroke-width="0.9"/>
<ellipse cx="97.6" cy="323.2" rx="2.1" ry="1.2000000000000002" transform="rotate(-12 97.3 323)" fill="#f4f4f4" stroke="#777" stroke-width="0.6"/>
<path d="M111.1 309 L111.1 230 A8.6 8.6 0 0 1 128.3 230 L128.3 314 L120 311 Z" fill="#f0f0f0" stroke="#4c4c4c" stroke-width="1.1" stroke-linejoin="round"/>
<path d="M113 306 L113 230.2 A6.7 6.7 0 0 1 126.4 230.2 L126.4 311" fill="#dcdcdc" stroke="#7a7a7a" stroke-width="0.7"/>
<path d="M111.1 308 C113 309 117 311 120.5 315 L128.3 314" fill="none" stroke="#5e5e5e" stroke-width="0.8"/>
<circle cx="119.3" cy="231.3" r="4.6" fill="#cfcfcf" stroke="#555" stroke-width="0.8"/>
<circle cx="119.89999999999999" cy="231.10000000000002" r="2.3" fill="#fff" stroke="#666" stroke-width="0.6"/>
<circle cx="119.0" cy="246" r="3.5" fill="#cfcfcf" stroke="#555" stroke-width="0.8"/>
<circle cx="119.6" cy="245.8" r="1.6" fill="#fff" stroke="#666" stroke-width="0.6"/>
<circle cx="119.0" cy="260.2" r="4.6" fill="#cfcfcf" stroke="#555" stroke-width="0.8"/>
<circle cx="119.6" cy="260.0" r="2.3" fill="#fff" stroke="#666" stroke-width="0.6"/>
<circle cx="119.0" cy="274.3" r="3.5" fill="#cfcfcf" stroke="#555" stroke-width="0.8"/>
<circle cx="119.6" cy="274.1" r="1.6" fill="#fff" stroke="#666" stroke-width="0.6"/>
<circle cx="119.0" cy="288.3" r="4.6" fill="#cfcfcf" stroke="#555" stroke-width="0.8"/>
<circle cx="119.6" cy="288.1" r="2.3" fill="#fff" stroke="#666" stroke-width="0.6"/>
<path d="M160.8 269.5 C158 258 152 248.5 143.5 242.5" fill="none" stroke="#1a1a1a" stroke-width="2.7"/>
<path d="M134.5 237 L149.2 240.4 L141.6 249.6 Z" fill="#1a1a1a"/></g>
<path class="kb" style="stroke:#231f20;stroke-width:1.8;stroke-linejoin:round" d="M335.5 260.5 L290 245 C278 241.6 265 238.3 251.7 235 C235 230.8 215 227.2 193.9 224.6 L193.9 206.9 L54.1 206.9 L54.1 346.2 L193.9 346.2 L193.9 240.5 C215 240.7 235 241.6 251.7 243.8 C265 245.6 278 248 290 250.5 Z"/>
</g>
<!-- callout box with bag -->
<g id="bag">
<rect x="266.6" y="418" width="111.5" height="125.6" fill="#fff"/>
<path class="kb" style="stroke:#111;stroke-width:1.8;stroke-linejoin:round" d="M378.3 346.7 C374 357 370 368 365 380 C360 391 355 403 350.8 418 L266.6 418 L266.6 543.6 L378.1 543.6 L378.1 418 L362.5 418 C364 404 366.5 392 369.2 380 C372 368 375 357 378.3 346.7 Z"/>
<path fill="#fff" stroke="#111" stroke-width="1.7" stroke-linejoin="round" stroke-linecap="round" d="M285.3 452.2 C284.6 454.3 284.8 456.8 286.2 458.2 L310.5 477.2 C312.5 478.6 315 478.8 317.5 477.6 L360 453.8 C362.3 452.3 362.9 449.5 362.7 446.5 C362.5 444.8 361.5 443.6 360 442.8 L335.8 430.4 C333.5 429.4 331.5 429.4 329.3 430.4 L287.5 449.6 C286.2 450.3 285.6 451.1 285.3 452.2 Z"/>
<path fill="none" stroke="#111" stroke-width="1.2" stroke-linejoin="round" stroke-linecap="round" style="stroke-width:1.5" d="M285.4 452.6 C286 453.3 286.8 453.8 287.6 454.3 L311.5 467 C313.5 468 315.8 468 317.8 467 L360.2 445.2 C361.6 444.5 362.3 444.8 362.6 445.6"/>
<path fill="none" stroke="#111" stroke-width="1.2" stroke-linejoin="round" stroke-linecap="round" style="stroke-width:1.2" d="M316 467.6 C313.2 470 312.2 474 313 477.8"/>
<path fill="none" stroke="#111" stroke-width="1.2" stroke-linejoin="round" stroke-linecap="round" style="stroke-width:0.9" d="M285.6 455.2 L311 470.2 M285.4 457 L310.2 473.2"/>
<path fill="none" stroke="#111" stroke-width="2.7" stroke-linecap="round" d="M325.7 434.6 L346.3 446.4 M310 442.2 L330.6 454.6"/>
<path fill="none" stroke="#fff" stroke-width="1.0" stroke-linecap="round" d="M325.9 434.7 L346.1 446.3 M310.2 442.3 L330.4 454.5"/>
<text transform="translate(316.6 440.8) rotate(33) skewX(-25)" font-size="6.8" font-weight="bold" textLength="25.5" lengthAdjust="spacingAndGlyphs">KLOSTER</text>
<text transform="translate(331.6 469) rotate(-30.5) skewX(-22)" font-size="6.2" font-weight="bold" font-style="italic" textLength="18.6" lengthAdjust="spacingAndGlyphs">KLOSTER</text>
<path fill="none" stroke="#111" stroke-width="1.2" stroke-linejoin="round" stroke-linecap="round" style="stroke-width:1" d="M321 469 L328 465.3 L328 468.8 L321 472.6 Z M349.6 454.6 L355.6 451.6 L355.6 455 L349.6 458.2 Z"/>
<path fill="#fff" stroke="#111" stroke-width="1.7" stroke-linejoin="round" stroke-linecap="round" style="stroke-width:1.8" d="M296.2 448.8 L310.5 451 L321 460.7 L301.5 457.7 Z"/>
<path fill="none" stroke="#111" stroke-width="1.2" stroke-linejoin="round" stroke-linecap="round" style="stroke-width:1.4" d="M299 450.6 L307.5 453.6"/>
<path fill="none" stroke="#111" stroke-width="1.2" stroke-linejoin="round" stroke-linecap="round" style="stroke-width:2" d="M296.6 449 C295.2 446 295.4 442 296.8 439"/>
<path fill="#fff" stroke="#111" stroke-width="1.7" stroke-linejoin="round" stroke-linecap="round" style="stroke-width:2" d="M281.6 430.4 C279.8 431.4 279.6 433.4 281.4 434.6 L291.8 440.8 C293.8 441.9 296.2 441.3 296.8 439.4 C297.2 438 296.4 436.9 295.2 436.1 L285.6 430.6 C284.2 429.8 282.8 429.7 281.6 430.4 Z"/>
<text x="287.47" y="505.3" font-size="20.8" textLength="53.04" lengthAdjust="spacingAndGlyphs">Plâtre</text>
<path d="M347.4 507.6 L353.8 489.6" fill="none" stroke="#111" stroke-width="1.6"/>
<text x="288.29" y="532.9" font-size="20.8" textLength="69.41" lengthAdjust="spacingAndGlyphs">Mortier</text>
</g>
</svg>
</body>
</html>
